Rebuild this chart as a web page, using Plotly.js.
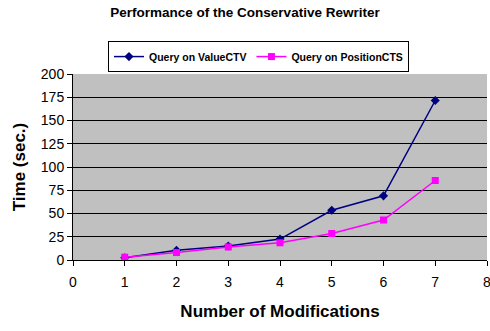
<!DOCTYPE html>
<html><head><meta charset="utf-8">
<script src="https://cdn.plot.ly/plotly-3.0.1.min.js"></script>
<style>html,body{margin:0;padding:0;background:#fff}#c{width:490px;height:331px}</style>
</head><body><div id="c"></div>
<script>
const modifications = [1, 2, 3, 4, 5, 6, 7];
const valueCTV = [2.5, 10.5, 15, 22.5, 53.5, 69, 171.5];
const positionCTS = [3, 8, 14, 18.5, 28.5, 43, 85.5];
const xTicks = [0, 1, 2, 3, 4, 5, 6, 7, 8];
const yTicks = [0, 25, 50, 75, 100, 125, 150, 175, 200];

const traces = [
  {x: modifications, y: valueCTV, name: '<b>Query on ValueCTV</b>', mode: 'lines+markers',
   line: {color: '#000080', width: 1.5}, marker: {symbol: 'diamond', size: 7, color: '#000080'}},
  {x: modifications, y: positionCTS, name: '<b>Query on PositionCTS</b>', mode: 'lines+markers',
   line: {color: '#FF00FF', width: 1.5}, marker: {symbol: 'square', size: 7, color: '#FF00FF'}}
];
const layout = {
  width: 490, height: 331,
  margin: {l: 73, r: 3, t: 74, b: 71},
  paper_bgcolor: '#fff', plot_bgcolor: '#C0C0C0',
  font: {family: 'Liberation Sans, Arial, sans-serif', color: '#000', size: 14},
  title: {text: '<b>Performance of the Conservative Rewriter</b>', font: {size: 13.5}, x: 0.5, xanchor: 'center', y: 0.962, yanchor: 'middle'},
  showlegend: true,
  legend: {orientation: 'h', x: 0.0845, xanchor: 'left', y: 1.177, yanchor: 'top',
           bordercolor: '#000', borderwidth: 1, font: {size: 10.5}, bgcolor: '#fff',
           itemwidth: 30, tracegroupgap: 0},
  xaxis: {range: [0, 8], tickvals: xTicks, ticks: 'outside', ticklen: 5, tickcolor: '#000',
          ticklabeloverflow: 'allow', ticklabelstandoff: 4,
          showgrid: false, zeroline: false, showline: true, linecolor: '#000', linewidth: 1,
          title: {text: '<b>Number of Modifications</b>', font: {size: 17}, standoff: 16}},
  yaxis: {range: [0, 200], tickvals: yTicks, ticks: 'outside', ticklen: 5, tickcolor: '#000',
          showgrid: true, gridcolor: '#000', gridwidth: 1, zeroline: false,
          showline: true, linecolor: '#000', linewidth: 1,
          title: {text: '<b>Time (sec.)</b>', font: {size: 17}, standoff: 10}}
};
Plotly.newPlot('c', traces, layout, {displayModeBar: false, staticPlot: true});
</script></body></html>
